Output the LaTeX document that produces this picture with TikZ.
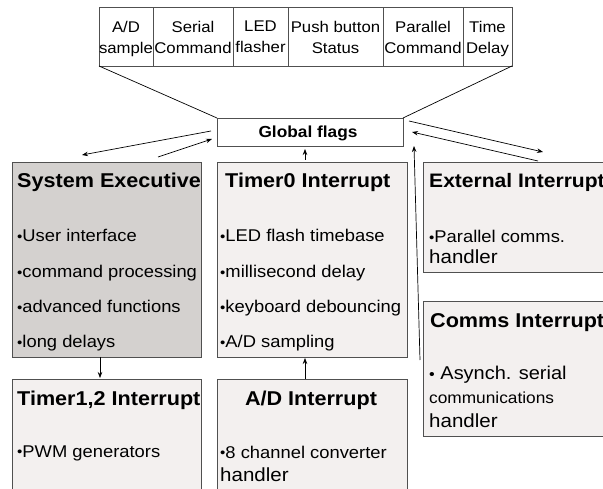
\documentclass[tikz,border=0pt]{standalone}
\usepackage{fontspec}
\setmainfont[FakeStretch=1.08]{Liberation Sans}
\usetikzlibrary{arrows.meta,calc}
\definecolor{bordc}{HTML}{505050}
\definecolor{darkfill}{HTML}{D4D1CF}
\definecolor{lightfill}{HTML}{F3F0EF}
\newcommand{\fs}[1]{\fontsize{#1}{#1}\selectfont}
\newcommand{\bul}{{\fs{14}\raisebox{0.5pt}{•}}}
\begin{document}
\begin{tikzpicture}[x=1pt,y=-1pt,
  box/.style={draw=bordc, line width=0.9pt, anchor=north west, inner sep=0, outer sep=0},
  cell/.style={draw=bordc, line width=0.8pt, fill=white, anchor=north west, inner sep=0, outer sep=0, minimum height=59pt},
  celltext/.style={anchor=north, inner sep=0, align=center, font=\fontsize{15.5}{21}\selectfont},
  title/.style={anchor=base west, inner sep=0, font=\fs{20}\bfseries},
  item/.style={anchor=base west, inner sep=0, font=\fs{17}},
  arr/.style={-{Stealth[length=6pt,width=4.5pt]}, line width=0.7pt}]
\useasboundingbox (0,0) rectangle (603,489);
\clip (0,0) rectangle (603,489);
\fill[white] (0,0) rectangle (603,489);

% top table of flags
\node[cell, minimum width=54pt] (c1) at (99,7) {};
\node[cell, minimum width=80pt] (c2) at (153,7) {};
\node[cell, minimum width=55pt] (c3) at (233,7) {};
\node[cell, minimum width=95pt] (c4) at (288,7) {};
\node[cell, minimum width=80pt] (c5) at (383,7) {};
\node[cell, minimum width=49pt] (c6) at (463,7) {};
\node[celltext] (t1) at ($(c1.north)+(0,14)$) {A/D\\sample};
\node[celltext] (t2) at ($(c2.north)+(0,14)$) {Serial\\Command};
\node[celltext] (t3) at ($(c3.north)+(0,14)$) {LED\\flasher};
\node[celltext] (t4) at ($(c4.north)+(0,14)$) {Push button\\Status};
\node[celltext] (t5) at ($(c5.north)+(0,14)$) {Parallel\\Command};
\node[celltext] (t6) at ($(c6.north)+(0,14)$) {Time\\Delay};

% boxes
\node[box, fill=white, minimum width=186pt, minimum height=28pt] (gf) at (217,118) {};
\node[anchor=base, inner sep=0, font=\fs{16}\bfseries] (gft) at (308,138) {Global flags};

\draw[line width=0.7pt] (c1.south west) -- (gf.north west);
\draw[line width=0.7pt] (c6.south east) -- (gf.north east);

\node[box, fill=darkfill, minimum width=189pt, minimum height=195pt] (se) at (12,162) {};
\node[box, fill=lightfill, minimum width=190pt, minimum height=195pt] (t0) at (217,162) {};
\node[box, fill=lightfill, minimum width=200pt, minimum height=110pt] (ext) at (423,162) {};
\node[box, fill=lightfill, minimum width=200pt, minimum height=135pt] (com) at (423,301) {};
\node[box, fill=lightfill, minimum width=189pt, minimum height=130pt] (t12) at (12,379) {};
\node[box, fill=lightfill, minimum width=190pt, minimum height=130pt] (ad) at (217,379) {};

% System Executive
\node[title] (se0) at (17,188) {System Executive};
\node[item] (se1) at (17,242) {\bul User interface};
\node[item] (se2) at (17,278) {\bul command processing};
\node[item] (se3) at (17,313) {\bul advanced functions};
\node[item] (se4) at (17,348) {\bul long delays};

% Timer0
\node[title] (tz0) at (225,188) {Timer0 Interrupt};
\node[item] (tz1) at (220,242) {\bul LED flash timebase};
\node[item] (tz2) at (220,278) {\bul millisecond delay};
\node[item] (tz3) at (220,313) {\bul keyboard debouncing};
\node[item] (tz4) at (220,348) {\bul A/D sampling};

% External
\node[title, font=\fs{19.5}\bfseries] (ex0) at (429,188) {External Interrupt};
\node[item] (ex1) at (429,243) {\bul Parallel comms.};
\node[item, font=\fs{19}] (ex2) at (429,264) {handler};

% Comms
\node[title] (co0) at (430,327) {Comms Interrupt};
\node[item, font=\fs{18.5}] (co1) at (429,380) {{\fs{15}\raisebox{0.8pt}{•}} Asynch. serial};
\node[item, font=\fs{16}] (co2) at (429,403) {communications};
\node[item, font=\fs{19}] (co3) at (429,427) {handler};

% Timer1,2
\node[title] (tw0) at (17,405) {Timer1,2 Interrupt};
\node[item] (tw1) at (17,457) {\bul PWM generators};

% A/D
\node[title, anchor=base] (ad0) at (311,405) {A/D Interrupt};
\node[item] (ad1) at (220,458) {\bul 8 channel converter};
\node[item, font=\fs{19}] (ad2) at (220,481) {handler};

% arrows
\draw[arr] ($(gf.west)+(-6,-1)$) -- ($(se.north)+(-24.5,-7)$);
\draw[arr] ($(se.north)+(51.5,-5)$) -- ($(gf.west)+(-5,7)$);
\draw[arr] ($(t0.north)+(-7,-2)$) -- ($(gf.south)+(-5,3)$);
\draw[arr] ($(gf.north east)+(6,3)$) -- ($(ext.north)+(20,-10)$);
\draw[arr] ($(ext.north)+(15,-1)$) -- ($(gf.east)+(9,0)$);
\draw[arr] ($(com.west)+(-3,-8.5)$) -- ($(gf.south east)+(11,0)$);
\draw[arr] ($(se.south)+(-6.5,0)$) -- ($(t12.north)+(-6.5,-1)$);
\draw[arr] ($(ad.north)+(-7,0)$) -- ($(t0.south)+(-7,1)$);
\end{tikzpicture}
\end{document}
